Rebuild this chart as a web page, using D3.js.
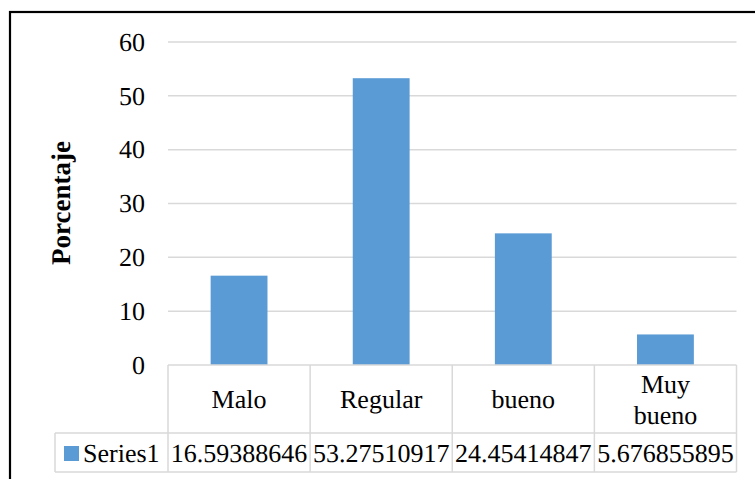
<!DOCTYPE html>
<html>
<head>
<meta charset="utf-8">
<script src="https://cdn.jsdelivr.net/npm/d3@7"></script>
<style>
  html, body { margin: 0; padding: 0; background: #fff; }
  svg { display: block; }
  svg text { text-rendering: geometricPrecision; }
</style>
</head>
<body>
<svg id="chart" width="755" height="479"></svg>
<script>
const categories = ["Malo", "Regular", "bueno", "Muy bueno"];
const values = [16.59388646, 53.27510917, 24.45414847, 5.676855895];
const yTicks = [0, 10, 20, 30, 40, 50, 60];
const seriesName = "Series1";
const yTitle = "Porcentaje";

const FONT = "Liberation Serif";
const svg = d3.select("#chart");
const W = 755, H = 479;
const plot = { left: 168, right: 736.5, top: 42, bottom: 365 };
const tableHeaderBottom = 433, tableBottom = 472, legendLeft = 55;
const barColor = "#5B9BD5", gridColor = "#D9D9D9";
const fontSize = 26;

function txt(sel) {
  return sel.attr("font-family", FONT).attr("fill", "#000")
    .attr("text-rendering", "geometricPrecision");
}

// outer border (only top & left visible)
svg.append("rect").attr("x", 10).attr("y", 12).attr("width", W + 20).attr("height", H + 20)
  .attr("fill", "#fff").attr("stroke", "#000").attr("stroke-width", 2.2);

const x = d3.scaleBand().domain(categories).range([plot.left, plot.right])
  .paddingInner(0.6).paddingOuter(0.3);
const y = d3.scaleLinear().domain([0, 60]).range([plot.bottom, plot.top]);

// gridlines
svg.append("g").selectAll("line").data(yTicks.filter(d => d > 0)).join("line")
  .attr("x1", plot.left).attr("x2", plot.right)
  .attr("y1", d => y(d)).attr("y2", d => y(d))
  .attr("stroke", gridColor).attr("stroke-width", 1.5);

// y axis labels
const yAxis = d3.axisLeft(y).tickValues(yTicks).tickSize(0).tickPadding(0).tickFormat(d3.format("d"));
const ya = svg.append("g").attr("transform", `translate(145,0)`).call(yAxis);
ya.attr("font-family", FONT).attr("font-size", fontSize);
ya.select(".domain").remove();
txt(ya.selectAll("text")).attr("font-size", fontSize);

// bars
svg.append("g").selectAll("rect").data(categories).join("rect")
  .attr("x", d => x(d)).attr("width", x.bandwidth())
  .attr("y", (d, i) => y(values[i])).attr("height", (d, i) => y(0) - y(values[i]))
  .attr("fill", barColor);

// data table
const step = x.step();
const colLeft = d => x(d) - (step - x.bandwidth()) / 2;
const tg = svg.append("g").attr("stroke", gridColor).attr("stroke-width", 1.5);
tg.append("line").attr("x1", plot.left).attr("x2", plot.right).attr("y1", plot.bottom).attr("y2", plot.bottom);
tg.append("line").attr("x1", legendLeft).attr("x2", plot.right).attr("y1", tableHeaderBottom).attr("y2", tableHeaderBottom);
tg.append("line").attr("x1", legendLeft).attr("x2", plot.right).attr("y1", tableBottom).attr("y2", tableBottom);
const bounds = categories.map(colLeft).concat([plot.right]);
tg.selectAll("line.v").data(bounds).join("line").attr("class", "v")
  .attr("x1", d => d).attr("x2", d => d).attr("y1", plot.bottom).attr("y2", tableBottom);
tg.append("line").attr("x1", legendLeft).attr("x2", legendLeft).attr("y1", tableHeaderBottom).attr("y2", tableBottom);

// header labels
const hdr = txt(svg.append("g").selectAll("text").data(categories).join("text"))
  .attr("text-anchor", "middle").attr("font-size", fontSize)
  .attr("x", d => x(d) + x.bandwidth() / 2);
hdr.each(function(d) {
  const words = d.split(" ");
  const t = d3.select(this);
  const lh = 31;
  const cy = (plot.bottom + tableHeaderBottom) / 2;
  const first = cy + 9 - (words.length - 1) * lh / 2;
  words.forEach((w, i) => {
    t.append("tspan").attr("x", x(d) + x.bandwidth() / 2).attr("y", first + i * lh).text(w);
  });
});

// value row
txt(svg.append("g").selectAll("text").data(categories).join("text"))
  .attr("text-anchor", "middle").attr("font-size", fontSize)
  .attr("x", d => x(d) + x.bandwidth() / 2).attr("y", 462)
  .text((d, i) => String(values[i]));

// legend key
svg.append("rect").attr("x", 64).attr("y", 446).attr("width", 15).attr("height", 15).attr("fill", barColor);
txt(svg.append("text")).attr("x", 83).attr("y", 462).attr("font-size", fontSize).text(seriesName);

// y title
txt(svg.append("text")).attr("transform", "translate(70,203) rotate(-90)")
  .attr("text-anchor", "middle").attr("font-size", 27).attr("font-weight", "bold").text(yTitle);
</script>
</body>
</html>
